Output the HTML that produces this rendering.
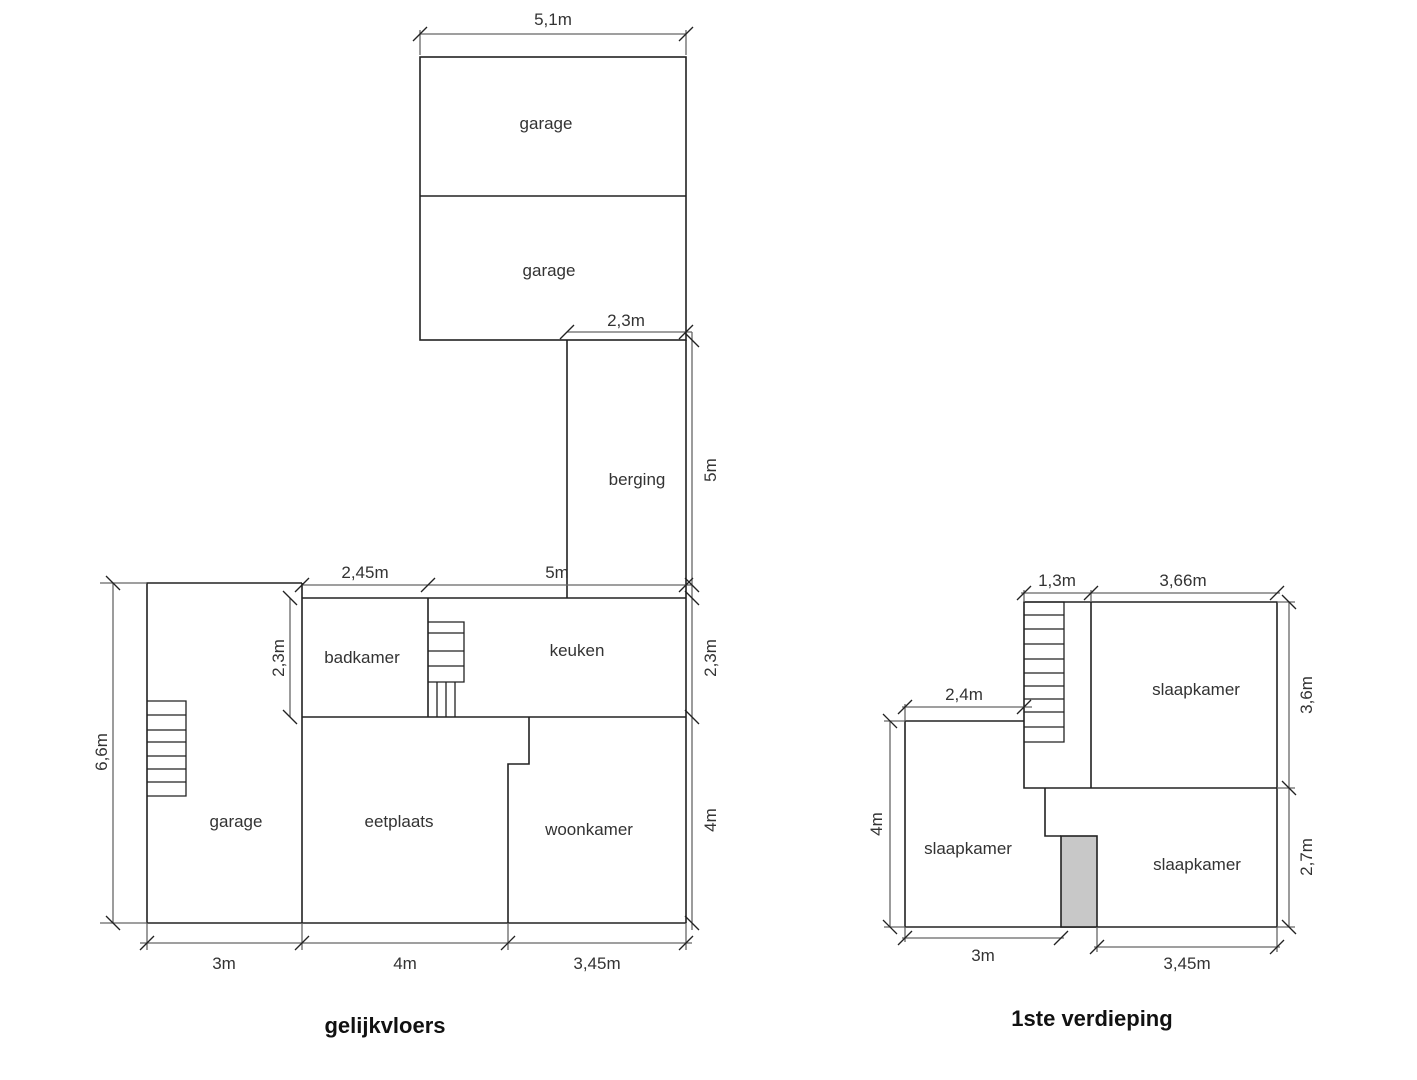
<!DOCTYPE html>
<html><head><meta charset="utf-8"><style>
html,body{margin:0;padding:0;background:#fff}
svg{display:block}
text{font-family:"Liberation Sans",sans-serif;fill:#333;font-size:17px}
.w{stroke:#222;stroke-width:1.6;fill:none}
.d{stroke:#666;stroke-width:1.3;fill:none}
.t{stroke:#222;stroke-width:1.3}
.s{stroke:#222;stroke-width:1.3;fill:none}
</style></head><body>
<svg width="1417" height="1080" viewBox="0 0 1417 1080" xmlns="http://www.w3.org/2000/svg">
<!-- GROUND FLOOR -->
<!-- top garages -->
<rect class="w" x="420" y="57" width="266" height="283"/>
<line class="w" x1="420" y1="196" x2="686" y2="196"/>
<!-- berging -->
<line class="w" x1="567" y1="340" x2="567" y2="598"/>
<!-- main -->
<line class="w" x1="686" y1="340" x2="686" y2="923"/>
<polyline class="w" points="302,583 147,583 147,923 686,923"/>
<line class="w" x1="302" y1="583" x2="302" y2="923"/>
<line class="w" x1="302" y1="598" x2="686" y2="598"/>
<line class="w" x1="302" y1="717" x2="686" y2="717"/>
<line class="w" x1="428" y1="598" x2="428" y2="717"/>
<polyline class="w" points="529,717 529,764 508,764 508,923"/>
<!-- stairs keuken -->
<polyline class="s" points="428,622 464,622 464,682 428,682"/>
<line class="s" x1="428" y1="633" x2="464" y2="633"/>
<line class="s" x1="428" y1="651" x2="464" y2="651"/>
<line class="s" x1="428" y1="666" x2="464" y2="666"/>
<line class="s" x1="437" y1="682" x2="437" y2="717"/>
<line class="s" x1="446" y1="682" x2="446" y2="717"/>
<line class="s" x1="455" y1="682" x2="455" y2="717"/>
<!-- stairs garage -->
<polyline class="s" points="147,701 186,701 186,796 147,796"/>
<line class="s" x1="147" y1="715" x2="186" y2="715"/>
<line class="s" x1="147" y1="730" x2="186" y2="730"/>
<line class="s" x1="147" y1="742" x2="186" y2="742"/>
<line class="s" x1="147" y1="756" x2="186" y2="756"/>
<line class="s" x1="147" y1="769" x2="186" y2="769"/>
<line class="s" x1="147" y1="782" x2="186" y2="782"/>
<!-- dims ground -->
<line class="d" x1="420" y1="34" x2="686" y2="34"/>
<line class="d" x1="420" y1="30" x2="420" y2="55"/><line class="d" x1="686" y1="30" x2="686" y2="55"/>
<line class="d" x1="567" y1="332" x2="692" y2="332"/>
<line class="d" x1="692" y1="332" x2="692" y2="930"/>
<line class="d" x1="302" y1="585" x2="692" y2="585"/>
<line class="d" x1="290" y1="598" x2="290" y2="717"/>
<line class="d" x1="113" y1="583" x2="113" y2="923"/>
<line class="d" x1="100" y1="583" x2="147" y2="583"/>
<line class="d" x1="100" y1="923" x2="147" y2="923"/>
<line class="d" x1="140" y1="943" x2="692" y2="943"/>
<line class="d" x1="147" y1="923" x2="147" y2="950"/>
<line class="d" x1="302" y1="923" x2="302" y2="950"/>
<line class="d" x1="508" y1="923" x2="508" y2="950"/>
<line class="d" x1="686" y1="923" x2="686" y2="950"/>
<g class="t">
<line x1="413" y1="41" x2="427" y2="27"/><line x1="679" y1="41" x2="693" y2="27"/>
<line x1="560" y1="339" x2="574" y2="325"/><line x1="679" y1="339" x2="693" y2="325"/>
<line x1="685" y1="333" x2="699" y2="347"/><line x1="685" y1="578" x2="699" y2="592"/>
<line x1="685" y1="591" x2="699" y2="605"/><line x1="685" y1="710" x2="699" y2="724"/><line x1="685" y1="916" x2="699" y2="930"/>
<line x1="295" y1="592" x2="309" y2="578"/><line x1="421" y1="592" x2="435" y2="578"/><line x1="679" y1="592" x2="693" y2="578"/>
<line x1="283" y1="591" x2="297" y2="605"/><line x1="283" y1="710" x2="297" y2="724"/>
<line x1="106" y1="576" x2="120" y2="590"/><line x1="106" y1="916" x2="120" y2="930"/>
<line x1="140" y1="950" x2="154" y2="936"/><line x1="295" y1="950" x2="309" y2="936"/><line x1="501" y1="950" x2="515" y2="936"/><line x1="679" y1="950" x2="693" y2="936"/>
</g>
<text x="553" y="25" text-anchor="middle">5,1m</text>
<text x="546" y="129" text-anchor="middle">garage</text>
<text x="549" y="276" text-anchor="middle">garage</text>
<text x="626" y="326" text-anchor="middle">2,3m</text>
<text x="637" y="485" text-anchor="middle">berging</text>
<text transform="translate(716,470) rotate(-90)" text-anchor="middle">5m</text>
<text x="365" y="578" text-anchor="middle">2,45m</text>
<text x="557" y="578" text-anchor="middle">5m</text>
<text x="362" y="663" text-anchor="middle">badkamer</text>
<text x="577" y="656" text-anchor="middle">keuken</text>
<text transform="translate(284,658) rotate(-90)" text-anchor="middle">2,3m</text>
<text transform="translate(716,658) rotate(-90)" text-anchor="middle">2,3m</text>
<text transform="translate(716,820) rotate(-90)" text-anchor="middle">4m</text>
<text transform="translate(107,752) rotate(-90)" text-anchor="middle">6,6m</text>
<text x="236" y="827" text-anchor="middle">garage</text>
<text x="399" y="827" text-anchor="middle">eetplaats</text>
<text x="589" y="835" text-anchor="middle">woonkamer</text>
<text x="224" y="969" text-anchor="middle">3m</text>
<text x="405" y="969" text-anchor="middle">4m</text>
<text x="597" y="969" text-anchor="middle">3,45m</text>
<text x="385" y="1033" text-anchor="middle" style="font-weight:bold;font-size:22px;fill:#111">gelijkvloers</text>

<!-- FIRST FLOOR -->
<polyline class="w" points="1024,721 905,721 905,927 1277,927 1277,602 1024,602 1024,788 1277,788"/>
<line class="w" x1="1091" y1="602" x2="1091" y2="788"/>
<polyline class="w" points="1045,788 1045,836 1061,836"/>
<rect x="1061" y="836" width="36" height="91" fill="#c8c8c8" stroke="#222" stroke-width="1.6"/>
<g class="s">
<polyline points="1024,602 1064,602 1064,742 1024,742"/>
<line x1="1024" y1="615" x2="1064" y2="615"/><line x1="1024" y1="629" x2="1064" y2="629"/>
<line x1="1024" y1="644" x2="1064" y2="644"/><line x1="1024" y1="659" x2="1064" y2="659"/>
<line x1="1024" y1="673" x2="1064" y2="673"/><line x1="1024" y1="686" x2="1064" y2="686"/>
<line x1="1024" y1="699" x2="1064" y2="699"/><line x1="1024" y1="712" x2="1064" y2="712"/>
<line x1="1024" y1="727" x2="1064" y2="727"/>
</g>
<line class="d" x1="1021" y1="593" x2="1280" y2="593"/>
<line class="d" x1="1024" y1="590" x2="1024" y2="602"/>
<line class="d" x1="1091" y1="590" x2="1091" y2="602"/>
<line class="d" x1="902" y1="707" x2="1032" y2="707"/>
<line class="d" x1="905" y1="704" x2="905" y2="721"/>
<line class="d" x1="890" y1="721" x2="890" y2="927"/>
<line class="d" x1="884" y1="721" x2="905" y2="721"/>
<line class="d" x1="884" y1="927" x2="905" y2="927"/>
<line class="d" x1="1289" y1="602" x2="1289" y2="927"/>
<line class="d" x1="1277" y1="602" x2="1295" y2="602"/>
<line class="d" x1="1277" y1="788" x2="1295" y2="788"/>
<line class="d" x1="1277" y1="927" x2="1295" y2="927"/>
<line class="d" x1="902" y1="938" x2="1064" y2="938"/>
<line class="d" x1="905" y1="927" x2="905" y2="942"/>
<line class="d" x1="1094" y1="947" x2="1280" y2="947"/>
<line class="d" x1="1097" y1="927" x2="1097" y2="952"/>
<line class="d" x1="1277" y1="927" x2="1277" y2="952"/>
<g class="t">
<line x1="1017" y1="600" x2="1031" y2="586"/><line x1="1084" y1="600" x2="1098" y2="586"/><line x1="1270" y1="600" x2="1284" y2="586"/>
<line x1="898" y1="714" x2="912" y2="700"/><line x1="1017" y1="714" x2="1031" y2="700"/>
<line x1="883" y1="714" x2="897" y2="728"/><line x1="883" y1="920" x2="897" y2="934"/>
<line x1="1282" y1="595" x2="1296" y2="609"/><line x1="1282" y1="781" x2="1296" y2="795"/><line x1="1282" y1="920" x2="1296" y2="934"/>
<line x1="898" y1="945" x2="912" y2="931"/><line x1="1054" y1="945" x2="1068" y2="931"/>
<line x1="1090" y1="954" x2="1104" y2="940"/><line x1="1270" y1="954" x2="1284" y2="940"/>
</g>
<text x="1057" y="586" text-anchor="middle">1,3m</text>
<text x="1183" y="586" text-anchor="middle">3,66m</text>
<text x="964" y="700" text-anchor="middle">2,4m</text>
<text x="1196" y="695" text-anchor="middle">slaapkamer</text>
<text x="968" y="854" text-anchor="middle">slaapkamer</text>
<text x="1197" y="870" text-anchor="middle">slaapkamer</text>
<text transform="translate(882,824) rotate(-90)" text-anchor="middle">4m</text>
<text transform="translate(1312,695) rotate(-90)" text-anchor="middle">3,6m</text>
<text transform="translate(1312,857) rotate(-90)" text-anchor="middle">2,7m</text>
<text x="983" y="961" text-anchor="middle">3m</text>
<text x="1187" y="969" text-anchor="middle">3,45m</text>
<text x="1092" y="1026" text-anchor="middle" style="font-weight:bold;font-size:22px;fill:#111">1ste verdieping</text>
</svg>
</body></html>
